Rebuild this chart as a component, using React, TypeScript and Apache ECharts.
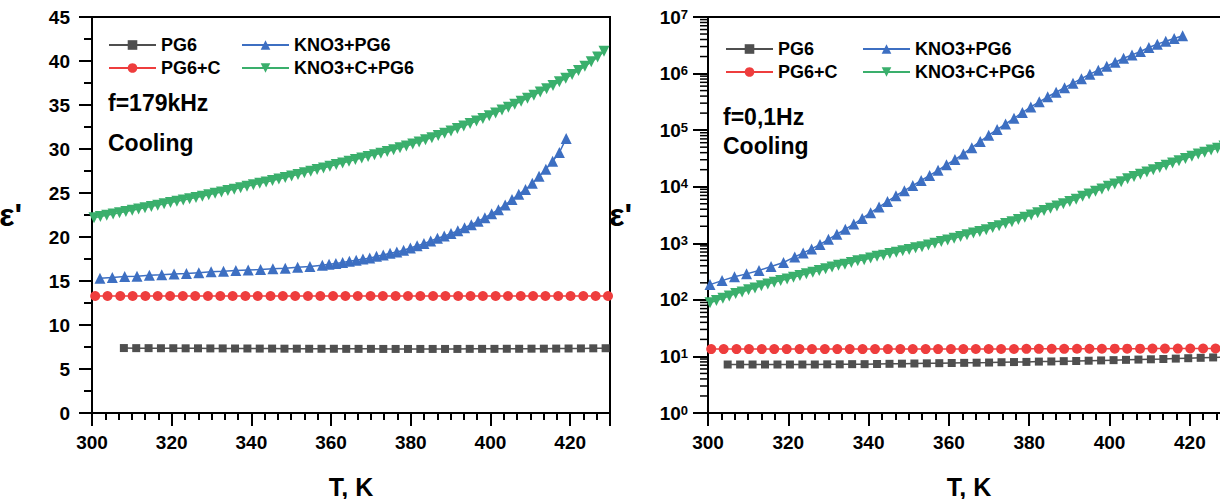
import React, { useEffect, useRef } from "react";
import * as echarts from "echarts";

// ---------- data ----------
// PG6 (gray squares)
const tGray = [304.9, 308.0, 311.1, 314.2, 317.3, 320.4, 323.5, 326.6, 329.7, 332.8, 335.9, 339.0, 342.1, 345.2, 348.3, 351.4, 354.5, 357.6, 360.7, 363.8, 366.9, 370.0, 373.1, 376.2, 379.3, 382.4, 385.5, 388.6, 391.7, 394.8, 397.9, 401.0, 404.1, 407.2, 410.3, 413.4, 416.5, 419.6, 422.7, 425.8, 428.9];
// left panel starts at the second temperature
const grayLeft = [7.38, 7.37, 7.37, 7.36, 7.36, 7.35, 7.35, 7.34, 7.34, 7.33, 7.33, 7.32, 7.32, 7.31, 7.31, 7.30, 7.30, 7.30, 7.29, 7.29, 7.29, 7.28, 7.28, 7.28, 7.28, 7.28, 7.28, 7.28, 7.29, 7.29, 7.29, 7.30, 7.30, 7.31, 7.31, 7.32, 7.33, 7.34, 7.35, 7.36];
const grayRight = [7.2, 7.2, 7.2, 7.2, 7.2, 7.2, 7.2, 7.2, 7.25, 7.25, 7.3, 7.3, 7.35, 7.4, 7.45, 7.5, 7.55, 7.6, 7.65, 7.7, 7.75, 7.8, 7.9, 7.95, 8.0, 8.1, 8.15, 8.25, 8.3, 8.4, 8.5, 8.6, 8.7, 8.8, 8.9, 9.0, 9.15, 9.3, 9.45, 9.6, 9.75];

// PG6+C (red circles)
const tRed = [300.8, 303.9, 307.1, 310.2, 313.4, 316.5, 319.6, 322.8, 325.9, 329.1, 332.2, 335.3, 338.5, 341.6, 344.8, 347.9, 351.0, 354.2, 357.3, 360.5, 363.6, 366.7, 369.9, 373.0, 376.2, 379.3, 382.4, 385.6, 388.7, 391.9, 395.0, 398.1, 401.3, 404.4, 407.6, 410.7, 413.8, 417.0, 420.1, 423.3, 426.4, 429.5];
const redLeft = [13.3, 13.3, 13.3, 13.3, 13.3, 13.3, 13.3, 13.3, 13.3, 13.3, 13.3, 13.3, 13.3, 13.3, 13.3, 13.3, 13.3, 13.3, 13.3, 13.3, 13.3, 13.3, 13.3, 13.3, 13.3, 13.3, 13.3, 13.3, 13.3, 13.3, 13.3, 13.3, 13.3, 13.3, 13.3, 13.3, 13.3, 13.3, 13.3, 13.3, 13.3, 13.3];
const redRight = [13.5, 13.5, 13.5, 13.5, 13.5, 13.5, 13.5, 13.5, 13.5, 13.5, 13.5, 13.5, 13.5, 13.5, 13.5, 13.5, 13.5, 13.5, 13.5, 13.5, 13.5, 13.55, 13.55, 13.55, 13.55, 13.6, 13.6, 13.6, 13.6, 13.65, 13.65, 13.65, 13.7, 13.7, 13.7, 13.75, 13.75, 13.75, 13.8, 13.8, 13.8, 13.85];

// KNO3+PG6 (blue triangles)
const tBlueL = [302, 305.1, 308.2, 311.3, 314.4, 317.5, 320.6, 323.7, 326.8, 329.9, 333, 336.1, 339.2, 342.3, 345.4, 348.5, 351.6, 354.7, 357.8, 359.5, 361.2, 362.9, 364.6, 366.3, 368, 369.7, 371.4, 373.1, 374.8, 376.5, 378.2, 379.9, 381.6, 383.3, 385, 386.7, 388.4, 390.1, 391.8, 393.5, 395.2, 396.9, 398.6, 400.3, 402, 403.7, 405.4, 407.1, 408.8, 410.5, 412.2, 413.9, 415.6, 417.3, 419];
const blueLeft = [15.3, 15.4, 15.5, 15.55, 15.65, 15.7, 15.8, 15.85, 15.95, 16.05, 16.1, 16.2, 16.25, 16.3, 16.4, 16.45, 16.55, 16.65, 16.8, 16.9, 17.0, 17.1, 17.25, 17.35, 17.5, 17.6, 17.8, 17.95, 18.15, 18.3, 18.5, 18.75, 19.0, 19.25, 19.55, 19.85, 20.1, 20.4, 20.7, 21.05, 21.4, 21.8, 22.2, 22.65, 23.1, 23.65, 24.25, 24.85, 25.4, 26.1, 26.9, 27.7, 28.6, 29.6, 31.2];
const tBlueR = [300.5, 303.5, 306.6, 309.6, 312.7, 315.7, 318.8, 321.6, 323.7, 325.8, 327.9, 330, 332.1, 334.2, 336.3, 338.4, 340.5, 342.6, 344.7, 346.8, 348.9, 351, 353.1, 355.2, 357.3, 359.4, 361.5, 363.6, 365.7, 367.8, 369.9, 372, 374.1, 376.2, 378.3, 380.4, 382.5, 384.6, 386.7, 388.8, 390.9, 393, 395.1, 397.2, 399.3, 401.4, 403.5, 405.6, 407.7, 409.8, 411.9, 414, 416.1, 418.2];
const blueRight = [186, 219, 257, 288, 331, 389, 457, 575, 676, 794, 955, 1175, 1445, 1778, 2188, 2754, 3467, 4365, 5495, 6918, 8511, 10470, 12880, 15850, 19500, 24550, 30200, 38020, 48980, 63100, 81280, 102300, 128800, 162200, 204200, 257000, 316200, 389000, 467700, 562300, 676100, 812800, 977200, 1148000, 1349000, 1585000, 1862000, 2138000, 2455000, 2884000, 3311000, 3715000, 4169000, 4677000];

// KNO3+C+PG6 (green inverted triangles)
const tGreen = [300.5, 302.1, 303.7, 305.3, 306.9, 308.5, 310.1, 311.7, 313.3, 314.9, 316.5, 318.1, 319.7, 321.3, 322.9, 324.5, 326.1, 327.7, 329.3, 330.9, 332.5, 334.1, 335.7, 337.3, 338.9, 340.5, 342.1, 343.7, 345.3, 346.9, 348.5, 350.1, 351.7, 353.3, 354.9, 356.5, 358.1, 359.7, 361.3, 362.9, 364.5, 366.1, 367.7, 369.3, 370.9, 372.5, 374.1, 375.7, 377.3, 378.9, 380.5, 382.1, 383.7, 385.3, 386.9, 388.5, 390.1, 391.7, 393.3, 394.9, 396.5, 398.1, 399.7, 401.3, 402.9, 404.5, 406.1, 407.7, 409.3, 410.9, 412.5, 414.1, 415.7, 417.3, 418.9, 420.5, 422.1, 423.7, 425.3, 426.9, 428.5];
const greenLeft = [22.18, 22.32, 22.46, 22.61, 22.75, 22.90, 23.04, 23.19, 23.33, 23.48, 23.62, 23.77, 23.91, 24.05, 24.20, 24.34, 24.49, 24.64, 24.80, 24.96, 25.12, 25.28, 25.44, 25.60, 25.77, 25.93, 26.10, 26.26, 26.43, 26.60, 26.77, 26.94, 27.11, 27.29, 27.47, 27.66, 27.85, 28.04, 28.23, 28.42, 28.61, 28.80, 28.98, 29.16, 29.34, 29.52, 29.71, 29.92, 30.13, 30.35, 30.57, 30.80, 31.04, 31.29, 31.54, 31.79, 32.05, 32.33, 32.61, 32.89, 33.18, 33.48, 33.79, 34.10, 34.42, 34.75, 35.08, 35.42, 35.77, 36.12, 36.48, 36.85, 37.23, 37.63, 38.04, 38.46, 38.92, 39.40, 39.91, 40.45, 41.1];
const greenRight = [89.1, 97.7, 107, 117, 129, 138, 151, 162, 178, 191, 204, 219, 234, 251, 269, 288, 309, 331, 355, 380, 407, 427, 457, 490, 513, 550, 589, 617, 661, 692, 741, 776, 832, 871, 933, 1000, 1072, 1148, 1230, 1318, 1413, 1514, 1622, 1738, 1905, 2042, 2239, 2399, 2630, 2884, 3162, 3467, 3802, 4169, 4571, 5012, 5495, 6026, 6761, 7413, 8318, 9120, 10230, 11220, 12300, 13800, 15140, 16600, 18200, 19950, 21880, 23990, 26300, 28840, 31620, 34670, 38020, 40740, 44670, 47860, 52480];

// log-axis minor tick positions
const logDecades = [1, 10, 100, 1000, 10000, 100000, 1000000];
const logMinorMultipliers = [2, 3, 4, 5, 6, 7, 8, 9];

const names = ["PG6", "PG6+C", "KNO3+PG6", "KNO3+C+PG6"];
const colors = ["#4f4f4f", "#ee3d3d", "#3d6fc2", "#3aaf6c"];
const FONT = "'Liberation Sans', Arial, sans-serif";

const zip = (xs: number[], ys: number[]) => ys.map((y, i) => [xs[i], y]);

export default function App() {
  const ref = useRef<HTMLDivElement>(null);
  useEffect(() => {
    document.body.style.margin = "0";
    const chart = echarts.init(ref.current!, null, { renderer: "svg" });

    const tickLabel = { color: "#000", fontFamily: FONT, fontWeight: "bold" as const, fontSize: 19 };
    const axisLine = { show: true, lineStyle: { color: "#000", width: 2 } };

    const xAxisBase = (gridIndex: number) => ({
      gridIndex,
      type: "value" as const,
      min: 300,
      max: 430,
      interval: 20,
      axisLine,
      axisTick: { show: true, length: 13, lineStyle: { color: "#000", width: 2 } },
      minorTick: { show: true, splitNumber: 6, length: 7, lineStyle: { color: "#000", width: 2 } },
      splitLine: { show: false },
      axisLabel: { ...tickLabel, margin: 20, showMaxLabel: false },
      name: "T, K",
      nameLocation: "middle" as const,
      nameGap: 61,
      nameTextStyle: { color: "#000", fontFamily: FONT, fontWeight: "bold" as const, fontSize: 25 },
    });

    const markerDefs = [
      { symbol: "rect", size: 8, rotate: 0 },
      { symbol: "circle", size: 10, rotate: 0 },
      { symbol: "triangle", size: 11, rotate: 0 },
      { symbol: "triangle", size: 11, rotate: 180 },
    ];

    const mkSeries = (i: number, data: number[][], gi: number) => ({
      name: names[i],
      type: "line" as const,
      xAxisIndex: gi,
      yAxisIndex: gi,
      data,
      symbol: markerDefs[i].symbol,
      symbolSize: markerDefs[i].size,
      symbolRotate: markerDefs[i].rotate,
      showAllSymbol: true,
      lineStyle: { color: colors[i], width: 1.5 },
      itemStyle: { color: colors[i] },
      clip: true,
    });

    const minorTickData: number[][] = [];
    logDecades.forEach((d) => logMinorMultipliers.forEach((m) => minorTickData.push([300, d * m])));

    const legendText = { color: "#000", fontFamily: FONT, fontWeight: "bold" as const, fontSize: 18 };
    const mkLegend = (left: number, top: number, data: string[]) => ({
      left,
      top,
      orient: "vertical" as const,
      data,
      itemWidth: 47,
      itemHeight: 12,
      itemGap: 5,
      textStyle: legendText,
      selectedMode: false,
    });

    const annot = (x: number, y: number, text: string) => ({
      type: "text",
      x,
      y,
      style: { text, fill: "#000", font: `bold 23px ${FONT}`, textVerticalAlign: "middle" },
    });

    chart.setOption({
      animation: false,
      backgroundColor: "#fff",
      grid: [
        { left: 92, top: 17, width: 518, height: 396, show: true, borderColor: "#000", borderWidth: 2, containLabel: false, outerBoundsMode: "none" },
        { left: 708, top: 17, width: 522, height: 396, show: true, borderColor: "#000", borderWidth: 2, containLabel: false, outerBoundsMode: "none" },
      ],
      xAxis: [xAxisBase(0), xAxisBase(1)],
      yAxis: [
        {
          gridIndex: 0,
          type: "value",
          min: 0,
          max: 45,
          interval: 5,
          axisLine,
          axisTick: { show: true, length: 13, lineStyle: { color: "#000", width: 2 } },
          minorTick: { show: true, splitNumber: 2, length: 8, lineStyle: { color: "#000", width: 2 } },
          splitLine: { show: false },
          axisLabel: { ...tickLabel, margin: 22 },
          name: "ε'",
          nameLocation: "middle",
          nameRotate: 0,
          nameGap: 70,
          nameTextStyle: { color: "#000", fontFamily: FONT, fontWeight: "bold", fontSize: 32 },
        },
        {
          gridIndex: 1,
          type: "log",
          logBase: 10,
          min: 1,
          max: 10000000,
          axisLine,
          axisTick: { show: true, length: 15, lineStyle: { color: "#000", width: 2 } },
          minorTick: { show: false },
          splitLine: { show: false },
          axisLabel: {
            margin: 20,
            formatter: (v: number) => `{a|10}{b|${Math.round(Math.log10(v))}}`,
            rich: {
              a: { color: "#000", fontFamily: FONT, fontWeight: "bold", fontSize: 19 },
              b: { color: "#000", fontFamily: FONT, fontWeight: "bold", fontSize: 13, verticalAlign: "top" },
            },
          },
          name: "ε'",
          nameLocation: "middle",
          nameRotate: 0,
          nameGap: 76,
          nameTextStyle: { color: "#000", fontFamily: FONT, fontWeight: "bold", fontSize: 32 },
        },
      ],
      legend: [
        mkLegend(103, 31, ["PG6", "PG6+C"]),
        mkLegend(236, 31, ["KNO3+PG6", "KNO3+C+PG6"]),
        mkLegend(720, 35, ["PG6", "PG6+C"]),
        mkLegend(857, 35, ["KNO3+PG6", "KNO3+C+PG6"]),
      ],
      graphic: [
        annot(108, 103, "f=179kHz"),
        annot(108, 143, "Cooling"),
        annot(723, 117, "f=0,1Hz"),
        annot(723, 146, "Cooling"),
      ],
      series: [
        mkSeries(0, zip(tGray.slice(1), grayLeft), 0),
        mkSeries(1, zip(tRed, redLeft), 0),
        mkSeries(2, zip(tBlueL, blueLeft), 0),
        mkSeries(3, zip(tGreen, greenLeft), 0),
        mkSeries(0, zip(tGray, grayRight), 1),
        mkSeries(1, zip(tRed, redRight), 1),
        mkSeries(2, zip(tBlueR, blueRight), 1),
        mkSeries(3, zip(tGreen, greenRight), 1),
        {
          type: "custom",
          xAxisIndex: 1,
          yAxisIndex: 1,
          silent: true,
          clip: false,
          z: 5,
          data: minorTickData,
          renderItem: (_params: any, api: any) => {
            const p = api.coord([api.value(0), api.value(1)]);
            return {
              type: "line",
              shape: { x1: p[0] - 8, y1: p[1], x2: p[0], y2: p[1] },
              style: { stroke: "#000", lineWidth: 1.5 },
            };
          },
        },
      ],
    });
    return () => chart.dispose();
  }, []);
  return <div ref={ref} style={{ width: 1220, height: 499 }} />;
}
